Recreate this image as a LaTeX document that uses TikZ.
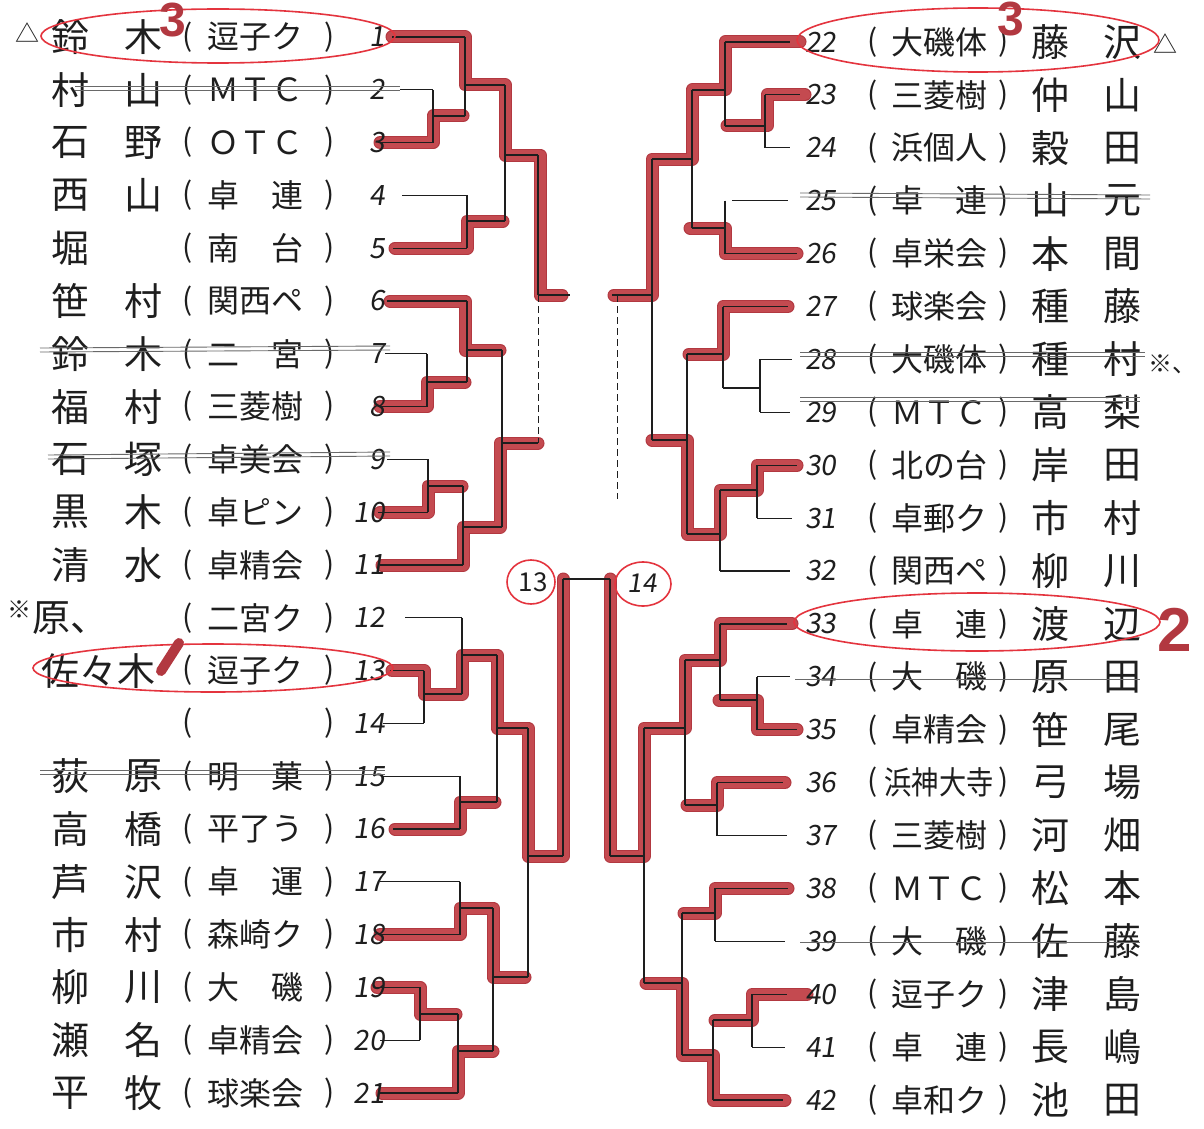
\documentclass[tikz,border=0pt]{standalone}
\usepackage{fontspec}
\newfontfamily\jp{Noto Sans CJK JP}
\newfontfamily\jpnum[FakeSlant=0.15]{Noto Sans CJK JP}
\newfontfamily\mk{Liberation Sans}
\definecolor{mred}{RGB}{196,74,80}
\definecolor{mredE}{RGB}{178,56,64}
\definecolor{ered}{RGB}{228,52,62}
\definecolor{ink}{RGB}{30,30,30}
\definecolor{strk}{RGB}{105,105,105}
\tikzset{
 redpath/.style={draw=mredE, line width=13pt, line cap=round, line join=round,
   postaction={draw=mred, line width=11pt, line cap=round, line join=round}},
 bline/.style={draw=ink, line width=1.2pt},
 dline/.style={draw=ink, line width=0.9pt, dash pattern=on 7pt off 4pt},
 nm/.style={font=\jp\fontsize{38}{38}\selectfont, text=ink, inner sep=0pt},
 cl/.style={font=\jp\fontsize{32}{32}\selectfont, text=ink, inner sep=0pt},
 pr/.style={font=\jp\fontsize{30}{30}\selectfont, text=ink, inner sep=0pt},
 num/.style={font=\jpnum\fontsize{28}{28}\selectfont, text=ink, inner sep=0pt},
 oval/.style={draw=ered, line width=1.6pt},
 strike/.style={draw=strk, line width=0.9pt},
 redmk/.style={font=\mk\bfseries\fontsize{48}{48}\selectfont, text=mredE, inner sep=0pt},
 sym/.style={font=\jp\fontsize{24}{24}\selectfont, text=ink, inner sep=0pt}
}
\newcommand\LeftRow[6]{%
 \node[nm] (L#1a) at (70,#2) {#3};
 \node[nm] (L#1b) at (143,#2) {#4};
 \node[pr] (L#1o) at (188,#2) {(};
 \node[cl] (L#1c) at (255,#2) {#5};
 \node[pr] (L#1p) at (330,#2) {)};
 \node[num,anchor=east] (L#1n) at (385,#2) {#6};}
\newcommand\RightRow[6]{%
 \node[num,anchor=west] (R#1n) at (805,#2) {#6};
 \node[pr] (R#1o) at (873,#2) {(};
 \node[cl] (R#1c) at (939,#2) {#3};
 \node[pr] (R#1p) at (1004,#2) {)};
 \node[nm] (R#1a) at (1050,#2) {#4};
 \node[nm] (R#1b) at (1122,#2) {#5};}
\begin{document}
\begin{tikzpicture}[x=1pt,y=-1pt]
\useasboundingbox (0,0) rectangle (1204,1129);
\fill[white] (0,0) rectangle (1204,1129);

% ---------- red progress strokes ----------
\draw[redpath] (392,37)--(465,37)--(465,85)--(505,85)--(505,155)--(540,155)--(540,295)--(562,295);
\draw[redpath] (380,142.6)--(433,142.6)--(433,116)--(463,116);
\draw[redpath] (395,248.2)--(467,248.2)--(467,221)--(503,221);
\draw[redpath] (390,301)--(465,301)--(465,350)--(500,350);
\draw[redpath] (380,406.6)--(427,406.6)--(427,382)--(465,382);
\draw[redpath] (380,512.2)--(428,512.2)--(428,486)--(462,486);
\draw[redpath] (382,565)--(463,565)--(463,527)--(500,527)--(500,443)--(538,443);
\draw[redpath] (392,670.6)--(424,670.6)--(424,694)--(462,694)--(462,655)--(497,655)--(497,728)--(528,728)--(528,856)--(563,856)--(563,579);
\draw[redpath] (395,829)--(460,829)--(460,802)--(495,802);
\draw[redpath] (380,934.6)--(460,934.6)--(460,908)--(493,908)--(493,977)--(525,977);
\draw[redpath] (377,987.4)--(420,987.4)--(420,1014)--(456,1014);
\draw[redpath] (382,1093)--(458,1093)--(458,1051)--(493,1051);

\draw[redpath] (800,42)--(725,42)--(725,90)--(692,90)--(692,159)--(652,159)--(652,295)--(614,295);
\draw[redpath] (805,94.9)--(767,94.9)--(767,126)--(727,126);
\draw[redpath] (797,253.6)--(725,253.6)--(725,228)--(690,228);
\draw[redpath] (788,306.5)--(723,306.5)--(723,354)--(689,354);
\draw[redpath] (797,465.2)--(757,465.2)--(757,490)--(720,490)--(720,534)--(687,534)--(687,440)--(652,440);
\draw[redpath] (792,623.9)--(720,623.9)--(720,660)--(685,660)--(685,728)--(644,728)--(644,856)--(610,856)--(610,579);
\draw[redpath] (797,729.7)--(757,729.7)--(757,700)--(719,700);
\draw[redpath] (785,782.6)--(717,782.6)--(717,805)--(687,805);
\draw[redpath] (788,888.4)--(715,888.4)--(715,913)--(684,913);
\draw[redpath] (807,994.2)--(752,994.2)--(752,1020)--(715,1020);
\draw[redpath] (785,1100)--(713,1100)--(713,1055)--(682,1055)--(682,983)--(646,983);

% ---------- black bracket lines, left ----------
\draw[bline]
 (392,37)--(465,37)
 (400,89.8)--(433,89.8)
 (378,142.6)--(433,142.6)
 (433,89.8)--(433,142.6) (433,116)--(465,116)
 (465,37)--(465,116) (465,85)--(505,85)
 (402,195.4)--(467,195.4)
 (393,248.2)--(467,248.2)
 (467,195.4)--(467,248.2) (467,221)--(505,221)
 (505,85)--(505,221) (505,155)--(538,155)
 (538,155)--(538,295) (538,295)--(570,295)
 (387,301)--(467,301)
 (385,353.8)--(427,353.8)
 (378,406.6)--(427,406.6)
 (427,353.8)--(427,406.6) (427,382)--(467,382)
 (467,301)--(467,382) (467,350)--(502,350)
 (387,459.4)--(428,459.4)
 (378,512.2)--(428,512.2)
 (428,459.4)--(428,512.2) (428,486)--(463,486)
 (380,565)--(463,565)
 (463,486)--(463,565) (463,527)--(502,527)
 (502,350)--(502,527) (502,443)--(538,443)
 (405,617.8)--(462,617.8)
 (390,670.6)--(424,670.6)
 (383,723.4)--(424,723.4)
 (424,670.6)--(424,723.4) (424,694)--(462,694)
 (462,617.8)--(462,694) (462,655)--(497,655)
 (383,776.2)--(460,776.2)
 (393,829)--(460,829)
 (460,776.2)--(460,829) (460,802)--(497,802)
 (497,655)--(497,802) (497,728)--(528,728)
 (380,881.8)--(460,881.8)
 (378,934.6)--(460,934.6)
 (460,881.8)--(460,934.6) (460,908)--(493,908)
 (375,987.4)--(420,987.4)
 (380,1040.2)--(420,1040.2)
 (420,987.4)--(420,1040.2) (420,1014)--(458,1014)
 (380,1093)--(458,1093)
 (458,1014)--(458,1093) (458,1051)--(493,1051)
 (493,908)--(493,1051) (493,977)--(528,977)
 (528,728)--(528,977) (528,856)--(563,856)
 (563,579)--(563,856) (563,579)--(610,579);
\draw[dline] (538,295)--(538,443);

% ---------- black bracket lines, right ----------
\draw[bline]
 (725,42)--(790,42)
 (765,94.9)--(800,94.9)
 (765,147.8)--(790,147.8)
 (765,94.9)--(765,147.8) (765,126)--(725,126)
 (725,42)--(725,126) (725,90)--(692,90)
 (732,200.7)--(788,200.7)
 (725,253.6)--(797,253.6)
 (725,200.7)--(725,253.6) (725,228)--(692,228)
 (692,90)--(692,228) (692,159)--(652,159)
 (723,306.5)--(788,306.5)
 (760,359.4)--(792,359.4)
 (760,412.3)--(790,412.3)
 (760,359.4)--(760,412.3) (760,388)--(723,388)
 (723,306.5)--(723,388) (723,354)--(687,354)
 (757,465.2)--(797,465.2)
 (757,518.1)--(792,518.1)
 (757,465.2)--(757,518.1) (757,490)--(720,490)
 (720,571)--(790,571)
 (720,490)--(720,571) (720,534)--(687,534)
 (687,354)--(687,534) (687,440)--(652,440)
 (652,159)--(652,440) (652,295)--(612,295)
 (720,623.9)--(787,623.9)
 (757,676.8)--(790,676.8)
 (757,729.7)--(797,729.7)
 (757,676.8)--(757,729.7) (757,700)--(720,700)
 (720,623.9)--(720,700) (720,660)--(685,660)
 (717,782.6)--(783,782.6)
 (717,835.5)--(787,835.5)
 (717,782.6)--(717,835.5) (717,805)--(685,805)
 (685,660)--(685,805) (685,728)--(644,728)
 (715,888.4)--(788,888.4)
 (715,941.3)--(785,941.3)
 (715,888.4)--(715,941.3) (715,913)--(682,913)
 (752,994.2)--(787,994.2)
 (752,1047.1)--(785,1047.1)
 (752,994.2)--(752,1047.1) (752,1020)--(713,1020)
 (713,1100)--(783,1100)
 (713,1020)--(713,1100) (713,1055)--(682,1055)
 (682,913)--(682,1055) (682,983)--(644,983)
 (644,728)--(644,983) (644,856)--(610,856)
 (610,579)--(610,856);
\draw[dline] (617,295)--(617,499);

% ---------- left entries ----------
\LeftRow{1}{37}{鈴}{木}{逗子ク}{1}
\LeftRow{2}{89.8}{村}{山}{ＭＴＣ}{2}
\LeftRow{3}{142.6}{石}{野}{ＯＴＣ}{3}
\LeftRow{4}{195.4}{西}{山}{卓　連}{4}
\LeftRow{5}{248.2}{堀}{}{南　台}{5}
\LeftRow{6}{301}{笹}{村}{関西ペ}{6}
\LeftRow{7}{353.8}{鈴}{木}{二　宮}{7}
\LeftRow{8}{406.6}{福}{村}{三菱樹}{8}
\LeftRow{9}{459.4}{石}{塚}{卓美会}{9}
\LeftRow{10}{512.2}{黒}{木}{卓ピン}{10}
\LeftRow{11}{565}{清}{水}{卓精会}{11}
\LeftRow{12}{617.8}{原、}{}{二宮ク}{12}
\LeftRow{13}{670.6}{}{}{逗子ク}{13}
\LeftRow{14}{723.4}{}{}{}{14}
\LeftRow{15}{776.2}{荻}{原}{明　菓}{15}
\LeftRow{16}{829}{高}{橋}{平了う}{16}
\LeftRow{17}{881.8}{芦}{沢}{卓　運}{17}
\LeftRow{18}{934.6}{市}{村}{森崎ク}{18}
\LeftRow{19}{987.4}{柳}{川}{大　磯}{19}
\LeftRow{20}{1040.2}{瀬}{名}{卓精会}{20}
\LeftRow{21}{1093}{平}{牧}{球楽会}{21}
\node[nm] (L13x) at (98,670.6) {佐々木};
\node[sym] (Ltri) at (27,33) {△};
\node[sym] (Lkome) at (20,610) {※};

% ---------- right entries ----------
\RightRow{22}{42}{大磯体}{藤}{沢}{22}
\RightRow{23}{94.9}{三菱樹}{仲}{山}{23}
\RightRow{24}{147.8}{浜個人}{穀}{田}{24}
\RightRow{25}{200.7}{卓　連}{山}{元}{25}
\RightRow{26}{253.6}{卓栄会}{本}{間}{26}
\RightRow{27}{306.5}{球楽会}{種}{藤}{27}
\RightRow{28}{359.4}{大磯体}{種}{村}{28}
\RightRow{29}{412.3}{ＭＴＣ}{高}{梨}{29}
\RightRow{30}{465.2}{北の台}{岸}{田}{30}
\RightRow{31}{518.1}{卓郵ク}{市}{村}{31}
\RightRow{32}{571}{関西ペ}{柳}{川}{32}
\RightRow{33}{623.9}{卓　連}{渡}{辺}{33}
\RightRow{34}{676.8}{大　磯}{原}{田}{34}
\RightRow{35}{729.7}{卓精会}{笹}{尾}{35}
\RightRow{36}{782.6}{\scalebox{0.85}[1]{浜神大寺}}{弓}{場}{36}
\RightRow{37}{835.5}{三菱樹}{河}{畑}{37}
\RightRow{38}{888.4}{ＭＴＣ}{松}{本}{38}
\RightRow{39}{941.3}{大　磯}{佐}{藤}{39}
\RightRow{40}{994.2}{逗子ク}{津}{島}{40}
\RightRow{41}{1047.1}{卓　連}{長}{嶋}{41}
\RightRow{42}{1100}{卓和ク}{池}{田}{42}
\node[sym] (Rtri) at (1165,44) {△};
\node[sym] (Rkome) at (1172,364) {※、};

% ---------- strike-throughs ----------
\draw[strike] (75,86.5)--(400,86.5) (75,90.5)--(400,90.5);
\draw[strike] (40,348)--(390,346) (40,352)--(390,350);
\draw[strike] (48,455)--(390,452) (48,459)--(390,456);
\draw[strike] (40,770)--(385,770) (40,774)--(385,774);
\draw[strike] (800,193)--(1150,195) (800,197)--(1150,199);
\draw[strike] (800,352)--(1145,352) (800,356)--(1145,356);
\draw[strike] (800,397)--(1140,397) (800,401)--(1140,401);
\draw[strike] (795,679)--(1140,679);
\draw[strike] (800,942)--(1140,942);

% ---------- red ovals and marks ----------
\draw[oval] (218,36) ellipse [x radius=177, y radius=27];
\draw[oval] (213,668) ellipse [x radius=180, y radius=24];
\draw[oval] (978,40) ellipse [x radius=181, y radius=32];
\draw[oval] (977,622) ellipse [x radius=183, y radius=29];
\draw[oval] (531,582) ellipse [x radius=24, y radius=22];
\draw[oval] (643,584) ellipse [x radius=28, y radius=22];
\node[font=\jp\fontsize{26}{26}\selectfont, text=ink, inner sep=0pt] (f13) at (533,582) {13};
\node[font=\jpnum\fontsize{26}{26}\selectfont, text=ink, inner sep=0pt] (f14) at (642,583) {14};
\node[redmk] (m3l) at (173,20) {3};
\node[redmk] (m3r) at (1011,19) {3};
\node[redmk, font=\mk\bfseries\fontsize{62}{62}\selectfont] (m2) at (1175,630) {2};
\draw[draw=mredE, line width=10pt, line cap=round] (161,671) -- (179,643);
\end{tikzpicture}
\end{document}
